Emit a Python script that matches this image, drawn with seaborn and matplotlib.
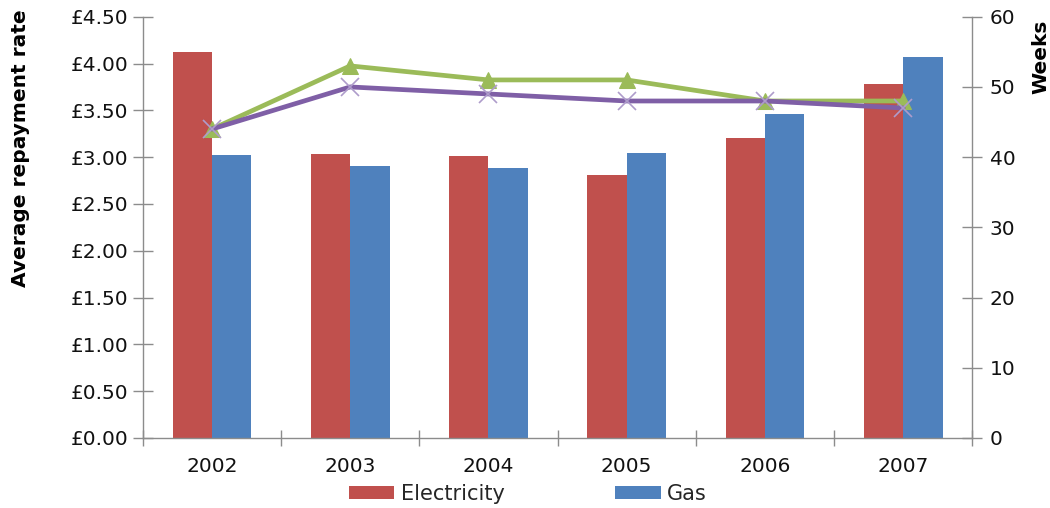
import numpy as np
import pandas as pd
import matplotlib
matplotlib.use("Agg")
import matplotlib.pyplot as plt
from matplotlib.ticker import FuncFormatter, FixedLocator, NullFormatter
import seaborn as sns

years = ["2002", "2003", "2004", "2005", "2006", "2007"]
electricity_rate = [4.12, 3.03, 3.01, 2.81, 3.20, 3.78]
gas_rate = [3.02, 2.90, 2.88, 3.04, 3.46, 4.07]
weeks_green = [44, 53, 51, 51, 48, 48]
weeks_purple = [44, 50, 49, 48, 48, 47]
fuels = ["Electricity", "Gas"]

sns.set_theme(style="white")
plt.rcParams["font.family"] = ["DejaVu Sans"]

df = pd.DataFrame({
    "year": years * 2,
    "rate": electricity_rate + gas_rate,
    "fuel": [fuels[0]] * len(years) + [fuels[1]] * len(years),
})

fig = plt.figure(figsize=(10.5, 5.08), dpi=100)
ax = fig.add_axes([0.136, 0.138, 0.790, 0.829])

sns.barplot(data=df, x="year", y="rate", hue="fuel", ax=ax,
            palette=["#C0504D", "#4F81BD"], width=0.57, gap=0,
            saturation=1, linewidth=0, errorbar=None)

axis_gray = "#8C8C8C"
text_col = "#111111"
tick_fs = 14.5
ax.set_xlim(-0.5, len(years) - 0.5)
ax.set_ylim(0, 4.5)
ax.set_yticks(np.arange(0, 4.51, 0.5))
ax.yaxis.set_major_formatter(FuncFormatter(lambda v, p: f"£{v:.2f}"))
ax.set_ylabel("Average repayment rate", fontsize=14.5, fontweight="bold",
              color="black", va="center", ha="center")
ax.yaxis.set_label_coords(-0.147, 0.689)
ax.set_xlabel("")

# category labels at bar centres, tick marks at category boundaries
ax.set_xticks(range(len(years)))
ax.set_xticklabels(years)
ax.tick_params(axis="x", which="major", length=0, pad=14, labelsize=tick_fs, colors=text_col)
ax.xaxis.set_minor_locator(FixedLocator(np.arange(-0.5, len(years), 1.0)))
ax.xaxis.set_minor_formatter(NullFormatter())
ax.tick_params(axis="x", which="minor", direction="inout", length=12,
               width=1, color=axis_gray, bottom=True)
ax.tick_params(axis="y", direction="inout", length=15, width=1,
               color=axis_gray, labelsize=tick_fs, labelcolor=text_col, pad=3, left=True)

for side in ["top", "right"]:
    ax.spines[side].set_visible(False)
for side in ["left", "bottom"]:
    ax.spines[side].set_color(axis_gray)
    ax.spines[side].set_linewidth(1)

ax2 = ax.twinx()
x = np.arange(len(years))
sns.lineplot(x=x, y=weeks_green, ax=ax2, color="#9BBB59", linewidth=3.4,
             marker="^", markersize=12, markeredgecolor="#9BBB59",
             markerfacecolor="#9BBB59", legend=False)
sns.lineplot(x=x, y=weeks_purple, ax=ax2, color="#7F5FA6", linewidth=3.4,
             marker="x", markersize=13, markeredgewidth=1.2,
             markeredgecolor="#AE9CCB", legend=False)
ax2.set_ylim(0, 60)
ax2.set_yticks(range(0, 61, 10))
ax2.set_ylabel("Weeks", fontsize=14.5, fontweight="bold", color="black",
               rotation=90, va="center", ha="center")
ax2.yaxis.set_label_coords(1.083, 0.905)
ax2.tick_params(axis="y", direction="inout", length=15, width=1,
                color=axis_gray, labelsize=tick_fs, labelcolor=text_col, pad=5, right=True)
for side in ["top", "left", "bottom"]:
    ax2.spines[side].set_visible(False)
ax2.spines["right"].set_color(axis_gray)
ax2.spines["right"].set_linewidth(1)
ax2.set_xlim(-0.5, len(years) - 0.5)

handles, labels = ax.get_legend_handles_labels()
ax.legend(handles, labels, loc="upper center", bbox_to_anchor=(0.464, -0.09),
          ncol=2, frameon=False, fontsize=15, handlelength=2.2, handleheight=0.55,
          handletextpad=0.3, columnspacing=5.3, borderaxespad=0)

fig.savefig("out.png", dpi=100)
